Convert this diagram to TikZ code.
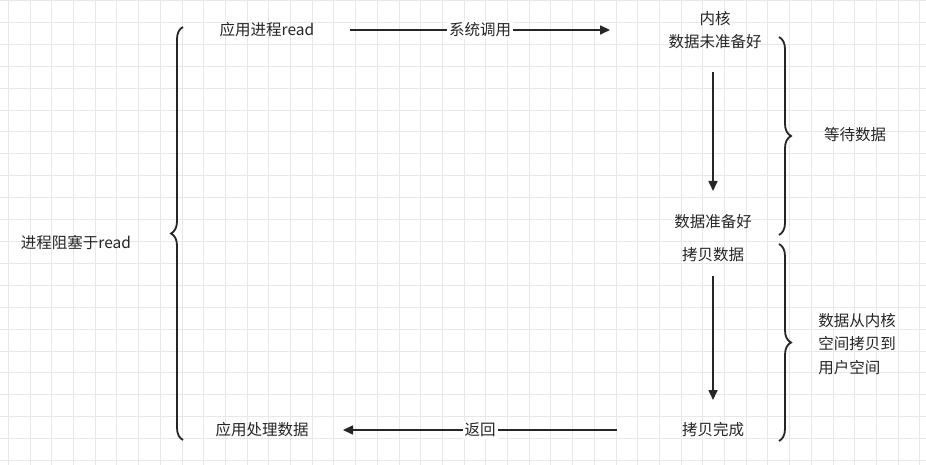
\documentclass[tikz,border=0pt]{standalone}
\usepackage{fontspec}
\setmainfont{Noto Sans CJK SC}
\usetikzlibrary{decorations.pathreplacing,arrows.meta}
\begin{document}
\begin{tikzpicture}[x=1pt,y=-1pt,
  lbl/.style={font=\fontsize{15.5}{23.5}\selectfont,text=black!85,inner sep=1pt},
  arr/.style={line width=1.6pt,draw=black!85,-{Triangle[length=10pt,width=9pt]}},
  brc/.style={line width=1.8pt,draw=black!85,decorate,decoration={brace,amplitude=12pt,aspect=0.5}}]
\useasboundingbox (0,0) rectangle (926,465);
\fill[white] (0,0) rectangle (926,465);
\foreach \i in {0,...,42} {\draw[black!9,line width=0.8pt] (8.3+21.7*\i,0) -- (8.3+21.7*\i,465);}
\foreach \j in {0,...,21} {\draw[black!9,line width=0.8pt] (0,0.5+21.9*\j) -- (926,0.5+21.9*\j);}
\node[lbl] (block) at (76,243) {进程阻塞于read};
\node[lbl] (app) at (267,30) {应用进程read};
\node[lbl,align=center] (kern) at (715,30) {内核\\数据未准备好};
\node[lbl] (ready) at (713,222) {数据准备好};
\node[lbl] (copy) at (713,255) {拷贝数据};
\node[lbl] (done) at (713,430) {拷贝完成};
\node[lbl] (proc) at (262,430) {应用处理数据};
\node[lbl] (wait) at (855,135) {等待数据};
\node[lbl,align=left] (cp) at (857,344) {数据从内核\\空间拷贝到\\用户空间};
\coordinate (s1) at (350,30); \coordinate (e1) at (610,30);
\draw[arr] (s1) -- node[lbl,fill=white,inner sep=2pt] (sys) {系统调用} (e1);
\coordinate (s2) at (713,72); \coordinate (e2) at (713,191);
\draw[arr] (s2) -- (e2);
\coordinate (s3) at (713,276); \coordinate (e3) at (713,400);
\draw[arr] (s3) -- (e3);
\coordinate (s4) at (617,430); \coordinate (e4) at (343,430);
\draw[arr] (s4) -- node[lbl,fill=white,inner sep=2pt] (ret) {返回} (e4);
\coordinate (b1a) at (183,440); \coordinate (b1b) at (183,27);
\draw[brc] (b1a) -- (b1b);
\coordinate (b2a) at (779,37); \coordinate (b2b) at (779,235);
\draw[brc] (b2a) -- (b2b);
\coordinate (b3a) at (779,244); \coordinate (b3b) at (779,441);
\draw[brc] (b3a) -- (b3b);
\end{tikzpicture}
\end{document}
